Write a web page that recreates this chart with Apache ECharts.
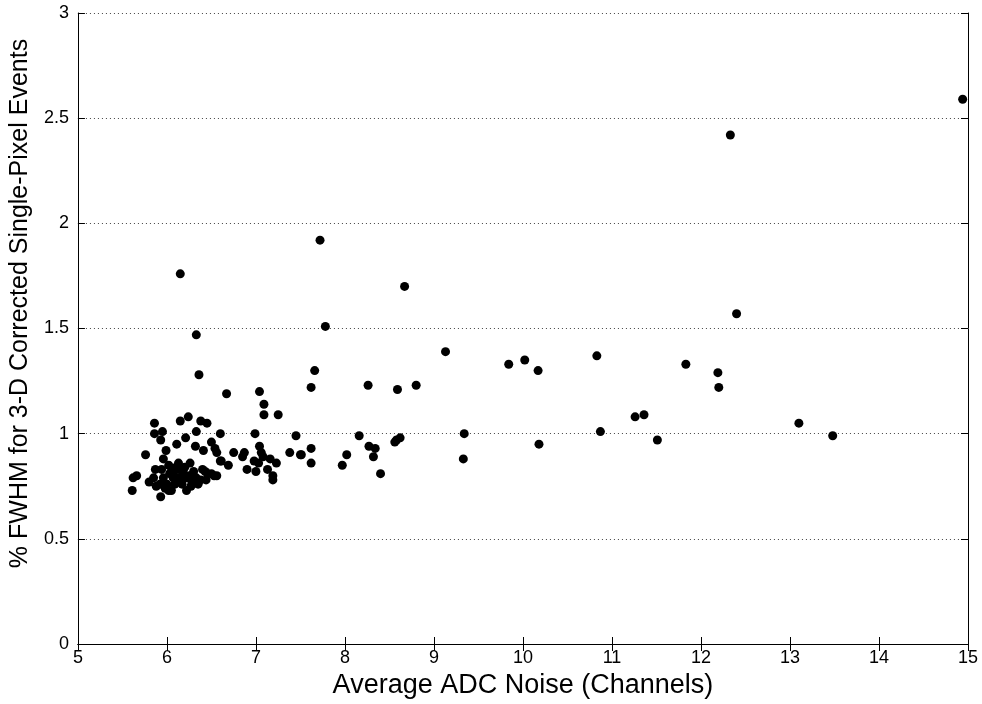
<!DOCTYPE html>
<html>
<head>
<meta charset="utf-8">
<script src="https://cdn.jsdelivr.net/npm/echarts@6/dist/echarts.min.js"></script>
<style>
  html, body { margin: 0; padding: 0; background: #fff; }
  #chart { width: 982px; height: 704px; }
</style>
</head>
<body>
<div id="chart"></div>
<script>
// average ADC noise (channels), one per detector
const noiseX = [
  14.94, 12.33, 7.72, 6.15, 8.67, 12.40, 7.78, 6.33, 9.13, 10.83,
  10.02, 9.84, 11.83, 7.66, 10.17, 12.19, 6.36, 7.62, 8.26, 8.80,
  8.59, 12.20, 6.67, 7.04, 7.09, 7.09, 7.25, 11.26, 11.36, 13.10,
  10.87, 9.34, 13.48, 11.51, 8.16, 10.18, 7.62, 7.62, 7.51, 8.27,
  8.34, 8.32, 8.02, 7.97, 8.40, 8.56, 8.62, 9.33, 6.60, 6.99,
  7.45, 7.04, 6.75, 6.87, 6.85, 7.06, 7.08, 7.16, 7.23, 6.98,
  7.03, 6.60, 6.69, 6.90, 7.00, 7.13, 7.19, 7.19, 7.38, 7.50,
  6.56, 5.86, 6.15, 6.24, 6.38, 6.45, 5.86, 5.95, 6.33, 5.93,
  6.21, 6.11, 6.32, 6.41, 6.50, 6.54, 6.56, 5.99, 5.96, 5.76,
  5.94, 6.02, 6.05, 6.13, 6.13, 6.26, 6.18, 6.30, 6.40, 6.50,
  6.53, 5.87, 5.85, 5.66, 5.62, 5.61, 5.80, 5.88, 5.93, 6.02,
  6.00, 6.09, 6.15, 6.07, 6.22, 6.22, 6.28, 6.33, 6.35, 5.96,
  5.92, 6.05, 6.17, 6.43, 6.46, 6.28, 6.32, 6.61, 6.08, 6.20,
  6.12, 6.25, 6.38, 6.03, 5.98, 6.10, 6.27, 6.44, 8.58
];
// % FWHM for 3-D corrected single-pixel events
const fwhmY = [
  2.59, 2.42, 1.92, 1.76, 1.70, 1.57, 1.51, 1.47, 1.39, 1.37,
  1.35, 1.33, 1.33, 1.30, 1.30, 1.29, 1.28, 1.22, 1.23, 1.23,
  1.21, 1.22, 1.19, 1.20, 1.14, 1.09, 1.09, 1.08, 1.09, 1.05,
  1.01, 1.00, 0.99, 0.97, 0.99, 0.95, 0.93, 0.86, 0.90, 0.94,
  0.93, 0.89, 0.90, 0.85, 0.81, 0.96, 0.98, 0.88, 1.00, 1.00,
  0.99, 0.94, 0.91, 0.91, 0.89, 0.91, 0.89, 0.88, 0.86, 0.87,
  0.86, 0.87, 0.85, 0.83, 0.82, 0.83, 0.80, 0.78, 0.91, 0.90,
  0.80, 1.05, 1.06, 1.08, 1.06, 1.05, 1.00, 1.01, 1.01, 0.97,
  0.98, 0.95, 0.94, 0.92, 0.96, 0.93, 0.91, 0.92, 0.88, 0.90,
  0.83, 0.85, 0.82, 0.86, 0.83, 0.86, 0.82, 0.82, 0.83, 0.81,
  0.80, 0.83, 0.79, 0.80, 0.79, 0.73, 0.77, 0.75, 0.70, 0.73,
  0.76, 0.76, 0.79, 0.79, 0.79, 0.73, 0.77, 0.79, 0.76, 0.79,
  0.76, 0.73, 0.76, 0.82, 0.81, 0.80, 0.77, 0.87, 0.80, 0.84,
  0.78, 0.80, 0.78, 0.81, 0.74, 0.84, 0.75, 0.78, 0.97
];

const points = noiseX.map((x, i) => [x, fwhmY[i]]);

const labelFont = {color: '#000', fontSize: 18, fontFamily: 'Liberation Sans'};
const nameFont = {color: '#000', fontSize: 27, fontFamily: 'Liberation Sans'};
const hiddenSide = {
  axisLine: {show: true, lineStyle: {color: '#000', width: 1}},
  axisTick: {show: true, inside: true, length: 7, lineStyle: {color: '#000'}},
  axisLabel: {show: false},
  splitLine: {show: false}
};

let chart = echarts.init(document.getElementById('chart'));
chart.setOption({
  animation: false,
  backgroundColor: '#fff',
  grid: {left: 76, right: 14, top: 13, bottom: 57},
  xAxis: [{
    type: 'value',
    min: 5, max: 15, interval: 1,
    name: 'Average ADC Noise (Channels)',
    nameLocation: 'middle',
    nameGap: 28,
    nameTextStyle: nameFont,
    axisLine: {show: true, onZero: false, lineStyle: {color: '#000', width: 1}},
    axisTick: {show: true, inside: true, length: 7, lineStyle: {color: '#000'}},
    axisLabel: Object.assign({margin: 5}, labelFont),
    splitLine: {show: false}
  }, Object.assign({
    type: 'value', position: 'top',
    min: 5, max: 15, interval: 1
  }, hiddenSide)],
  yAxis: [{
    type: 'value',
    min: 0, max: 3, interval: 0.5,
    name: '% FWHM for 3-D Corrected Single-Pixel Events',
    nameLocation: 'middle',
    nameGap: 40,
    nameTextStyle: Object.assign({}, nameFont, {fontSize: 25, padding: [0, 0, 0, 50]}),
    axisLine: {show: true, onZero: false, lineStyle: {color: '#000', width: 1}},
    axisTick: {show: true, inside: true, length: 7, lineStyle: {color: '#000'}},
    axisLabel: Object.assign({margin: 9}, labelFont),
    splitLine: {show: true, lineStyle: {color: '#444', type: [1, 3], width: 1}}
  }, Object.assign({
    type: 'value', position: 'right',
    min: 0, max: 3, interval: 0.5
  }, hiddenSide)],
  series: [{
    type: 'scatter',
    xAxisIndex: 0,
    yAxisIndex: 0,
    symbol: 'circle',
    symbolSize: 9,
    itemStyle: {color: '#000', opacity: 1},
    data: points
  }]
});
</script>
</body>
</html>
